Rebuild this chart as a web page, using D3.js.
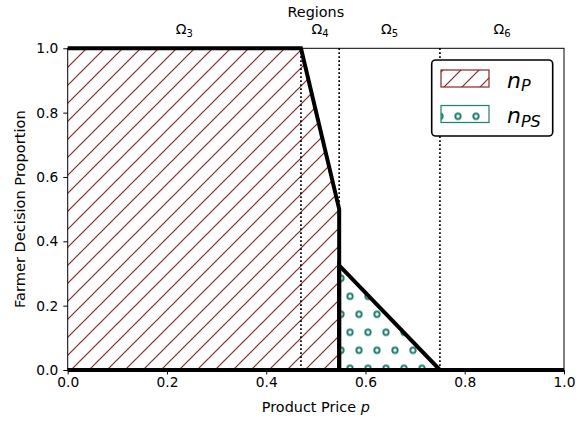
<!DOCTYPE html>
<html>
<head>
<meta charset="utf-8">
<script src="https://cdn.jsdelivr.net/npm/d3@7"></script>
<style>
  html, body { margin: 0; padding: 0; background: #fff; }
  svg { display: block; font-family: "DejaVu Sans", sans-serif; }
</style>
</head>
<body>
<svg id="chart" width="585" height="421"></svg>
<script>
// Region boundaries on the price axis
const boundaries = [0, 0.47, 0.547, 0.75, 1];
const regionNames = ["3", "4", "5", "6"];

// n_P: proportion choosing P as a function of price
const priceP = [0, 0.47, 0.547, 0.547, 1];
const nP     = [1, 1,    0.5,   0,     0];

// n_PS: proportion choosing PS as a function of price
const pricePS = [0, 0.547, 0.547, 0.75, 1];
const nPS     = [0, 0,     0.325, 0,    0];

const xTicks = [0, 0.2, 0.4, 0.6, 0.8, 1.0];
const yTicks = [0, 0.2, 0.4, 0.6, 0.8, 1.0];

const colP = "#8e2424";
const colPS = "#1d7f6e";

const svg = d3.select("#chart");
const plotL = 67.7, plotR = 564, plotT = 48.3, plotB = 370;

const x = d3.scaleLinear().domain([0, 1]).range([plotL, plotR]);
const y = d3.scaleLinear().domain([0, 1]).range([plotB, plotT]);

// Fill patterns
const defs = svg.append("defs");
const hatch = defs.append("pattern")
  .attr("id", "hatchP").attr("patternUnits", "userSpaceOnUse")
  .attr("x", 9).attr("y", 0).attr("width", 18).attr("height", 18);
hatch.append("path")
  .attr("d", "M0,18 L18,0 M-4.5,4.5 L4.5,-4.5 M13.5,22.5 L22.5,13.5")
  .attr("stroke", colP).attr("stroke-width", 1.2).attr("fill", "none");

const dots = defs.append("pattern")
  .attr("id", "dotsPS").attr("patternUnits", "userSpaceOnUse")
  .attr("x", 350).attr("y", 368.3).attr("width", 18).attr("height", 36);
[[0, 0], [18, 0], [0, 36], [18, 36], [9, 18]].forEach(([cx, cy]) => {
  dots.append("circle").attr("cx", cx).attr("cy", cy).attr("r", 2.7)
    .attr("fill", "none").attr("stroke", colPS).attr("stroke-width", 1.9);
});

const seriesP = priceP.map((p, i) => [p, nP[i]]);
const seriesPS = pricePS.map((p, i) => [p, nPS[i]]);

const area = d3.area().x(d => x(d[0])).y0(y(0)).y1(d => y(d[1]));
const line = d3.line().x(d => x(d[0])).y(d => y(d[1]));

svg.append("path").datum(seriesP).attr("d", area).attr("fill", "url(#hatchP)");
svg.append("path").datum(seriesPS).attr("d", area).attr("fill", "url(#dotsPS)");

// Region boundary lines
svg.selectAll(".bound").data(boundaries.slice(1, 4)).enter().append("line")
  .attr("x1", d => x(d)).attr("x2", d => x(d))
  .attr("y1", y(0)).attr("y2", y(1))
  .attr("stroke", "#000").attr("stroke-width", 1.7)
  .attr("stroke-dasharray", "1.7,2.3");

// Axes frame
svg.append("rect").attr("x", plotL).attr("y", plotT)
  .attr("width", plotR - plotL).attr("height", plotB - plotT)
  .attr("fill", "none").attr("stroke", "#000").attr("stroke-width", 1);

// Curves
[seriesP, seriesPS].forEach(s => {
  svg.append("path").datum(s).attr("d", line)
    .attr("fill", "none").attr("stroke", "#000").attr("stroke-width", 4)
    .attr("stroke-linejoin", "miter");
});

// Axes
const fmt = d3.format(".1f");
const xAxis = svg.append("g").attr("transform", `translate(0,${plotB})`)
  .call(d3.axisBottom(x).tickValues(xTicks).tickFormat(fmt).tickSize(4.4).tickPadding(3));
const yAxis = svg.append("g").attr("transform", `translate(${plotL},0)`)
  .call(d3.axisLeft(y).tickValues(yTicks).tickFormat(fmt).tickSize(4.4).tickPadding(5));
[xAxis, yAxis].forEach(g => {
  g.select(".domain").remove();
  g.selectAll("text").attr("font-size", 13.8).attr("fill", "#000")
    .attr("font-family", "DejaVu Sans");
  g.selectAll("line").attr("stroke", "#000").attr("stroke-width", 1);
});

// Axis labels
const xl = svg.append("text").attr("x", (plotL + plotR) / 2).attr("y", 412)
  .attr("text-anchor", "middle").attr("font-size", 14.4);
xl.append("tspan").text("Product Price ");
xl.append("tspan").attr("font-style", "italic").text("p");

svg.append("text")
  .attr("transform", `translate(25,${(plotT + plotB) / 2}) rotate(-90)`)
  .attr("text-anchor", "middle").attr("font-size", 14.6)
  .text("Farmer Decision Proportion");

// Region labels along the top
svg.append("text").attr("x", (plotL + plotR) / 2).attr("y", 16.5)
  .attr("text-anchor", "middle").attr("font-size", 14.4).text("Regions");

regionNames.forEach((name, i) => {
  const mid = (boundaries[i] + boundaries[i + 1]) / 2;
  const t = svg.append("text").attr("x", x(mid)).attr("y", 34)
    .attr("text-anchor", "middle").attr("font-size", 14);
  t.append("tspan").text("Ω");
  t.append("tspan").attr("font-size", 10).attr("dy", 2.5).text(name);
});

// Legend
const legend = svg.append("g");
legend.append("rect").attr("x", 431.7).attr("y", 60).attr("width", 121).attr("height", 76)
  .attr("rx", 4).attr("fill", "#fff").attr("stroke", "#000").attr("stroke-width", 1.6);

const legendItems = [
  { fill: "url(#hatchP)", stroke: colP, sub: "P", y: 70 },
  { fill: "url(#dotsPS)", stroke: colPS, sub: "PS", y: 105.5 }
];
legendItems.forEach(it => {
  legend.append("rect").attr("x", 441).attr("y", it.y).attr("width", 48).attr("height", 17)
    .attr("fill", it.fill).attr("stroke", it.stroke).attr("stroke-width", 1.2);
  const t = legend.append("text").attr("x", 507).attr("y", it.y + 17.5)
    .attr("font-size", 22).attr("font-style", "italic");
  t.append("tspan").text("n");
  t.append("tspan").attr("font-size", 16).attr("dy", 3.5).text(it.sub);
});
</script>
</body>
</html>
